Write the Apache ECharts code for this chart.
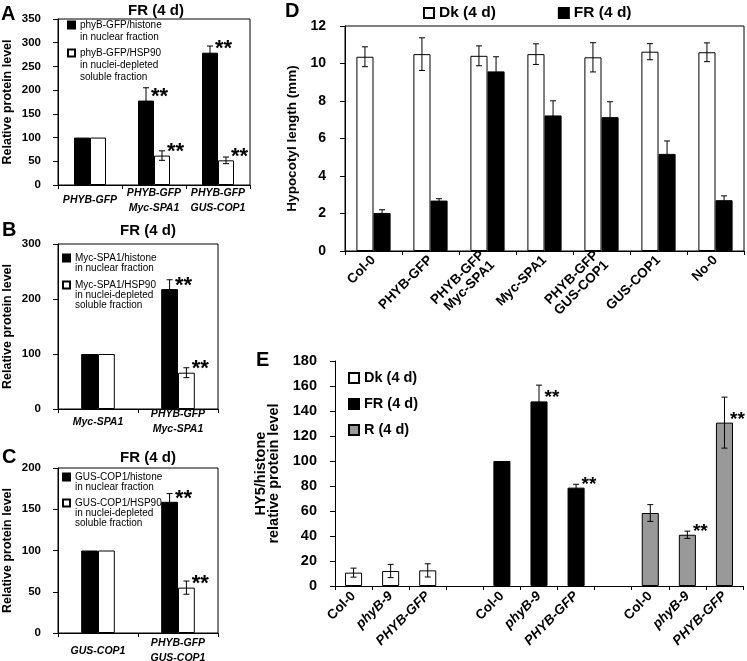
<!DOCTYPE html>
<html><head><meta charset="utf-8">
<script src="https://cdn.jsdelivr.net/npm/echarts@6/dist/echarts.min.js"></script>
<style>html,body{margin:0;padding:0;background:#fff}#c{width:747px;height:661px}</style>
</head><body><div id="c"></div>
<script>
// ---------- DATA ----------
const catsA = ['PHYB-GFP', 'PHYB-GFP\nMyc-SPA1', 'PHYB-GFP\nGUS-COP1'];
const aNuclear = [100, 178, 279];
const aNuclearErr = [0, 27, 14];
const aNuclearSig = [0, 1, 1];
const aSoluble = [100, 62, 52];
const aSolubleErr = [0, 10, 7];
const aSolubleSig = [0, 1, 1];

const catsB = ['Myc-SPA1', 'PHYB-GFP\nMyc-SPA1'];
const bNuclear = [100, 218];
const bNuclearErr = [0, 17];
const bNuclearSig = [0, 1];
const bSoluble = [100, 66];
const bSolubleErr = [0, 9];
const bSolubleSig = [0, 1];

const catsC = ['GUS-COP1', 'PHYB-GFP\nGUS-COP1'];
const cNuclear = [100, 159];
const cNuclearErr = [0, 10];
const cNuclearSig = [0, 1];
const cSoluble = [100, 55];
const cSolubleErr = [0, 8];
const cSolubleSig = [0, 1];

const catsD = ['Col-0', 'PHYB-GFP', 'PHYB-GFP\nMyc-SPA1', 'Myc-SPA1', 'PHYB-GFP\nGUS-COP1', 'GUS-COP1', 'No-0'];
const dDark = [10.36, 10.5, 10.41, 10.5, 10.33, 10.63, 10.6];
const dDarkErr = [0.53, 0.87, 0.53, 0.55, 0.78, 0.43, 0.5];
const dFR = [2.03, 2.69, 9.58, 7.23, 7.14, 5.18, 2.71];
const dFRErr = [0.17, 0.1, 0.78, 0.78, 0.82, 0.69, 0.23];

const catsE = ['Col-0', 'phyB-9', 'PHYB-GFP', '', 'Col-0', 'phyB-9', 'PHYB-GFP', '', 'Col-0', 'phyB-9', 'PHYB-GFP'];
const eDark = [10.7, 12, 12.5, null, null, null, null, null, null, null, null];
const eDarkErr = [3.6, 5.3, 5.3, 0, 0, 0, 0, 0, 0, 0, 0];
const eDarkSig = [0, 0, 0, 0, 0, 0, 0, 0, 0, 0, 0];
const eFR = [null, null, null, null, 100, 147.7, 78.7, null, null, null, null];
const eFRErr = [0, 0, 0, 0, 0, 13, 2.7, 0, 0, 0, 0];
const eFRSig = [0, 0, 0, 0, 0, 1, 1, 0, 0, 0, 0];
const eR = [null, null, null, null, null, null, null, null, 58.4, 41, 130.7];
const eRErr = [0, 0, 0, 0, 0, 0, 0, 0, 6.7, 2.9, 20.4];
const eRSig = [0, 0, 0, 0, 0, 0, 0, 0, 0, 1, 1];

const legendText = {
  'phyB-GFP/histone': 'phyB-GFP/histone\nin nuclear fraction',
  'phyB-GFP/HSP90': 'phyB-GFP/HSP90\nin nuclei-depleted\nsoluble fraction',
  'Myc-SPA1/histone': 'Myc-SPA1/histone\nin nuclear fraction',
  'Myc-SPA1/HSP90': 'Myc-SPA1/HSP90\nin nuclei-depleted\nsoluble fraction',
  'GUS-COP1/histone': 'GUS-COP1/histone\nin nuclear fraction',
  'GUS-COP1/HSP90': 'GUS-COP1/HSP90\nin nuclei-depleted\nsoluble fraction'
};
const uprightE = ['Col-0'];

// ---------- HELPERS ----------
const FONT = '"Liberation Sans", Arial, Helvetica, sans-serif';
const BLACK = {color: '#000', borderColor: '#000', borderWidth: 1};
const WHITE = {color: '#fff', borderColor: '#000', borderWidth: 1};
const GRAY = {color: '#999999', borderColor: '#000', borderWidth: 1};

function grid(left, top, width, height, box) {
  return {left, top, width, height, containLabel: false, outerBoundsMode: 'none',
    show: box, borderColor: '#000', borderWidth: 1, backgroundColor: 'transparent'};
}
function yAx(gi, max, interval, fs, margin, name, nameGap, nameSize, nameLH) {
  return {type: 'value', gridIndex: gi, min: 0, max, interval,
    axisLine: {show: true, lineStyle: {color: '#000', width: 1}},
    axisTick: {show: true, length: 5, inside: false, lineStyle: {color: '#000', width: 1}},
    splitLine: {show: false},
    axisLabel: {color: '#000', fontFamily: FONT, fontWeight: 'bold', fontSize: fs, margin},
    name, nameLocation: 'middle', nameGap, nameRotate: 90,
    nameTextStyle: {color: '#000', fontFamily: FONT, fontWeight: 'bold', fontSize: nameSize, lineHeight: nameLH}
  };
}
function xAx(gi, data, label) {
  return {type: 'category', gridIndex: gi, data, boundaryGap: true,
    axisLine: {show: true, onZero: false, lineStyle: {color: '#000', width: 1}},
    axisTick: {show: true, interval: 0, length: 4, alignWithLabel: false, inside: false, lineStyle: {color: '#000', width: 1}},
    splitLine: {show: false},
    axisLabel: Object.assign({interval: 0, color: '#000', fontFamily: FONT, fontWeight: 'bold', hideOverlap: false}, label)
  };
}
function bar(name, gi, data, style, width, gap) {
  return {type: 'bar', name, xAxisIndex: gi, yAxisIndex: gi, data, itemStyle: style,
    barWidth: width, barGap: gap, z: 2, silent: true, animation: false};
}
function errSeries(name, gi, vals, errs, sigs, offsetSign, barFrac, starSize) {
  const data = [];
  vals.forEach((v, i) => { if (v != null) data.push([i, v, errs[i], sigs[i]]); });
  return {type: 'custom', name, xAxisIndex: gi, yAxisIndex: gi, data, z: 5, silent: true, animation: false,
    encode: {x: 0, y: 1},
    renderItem: function (params, api) {
      const i = api.value(0), v = api.value(1), e = api.value(2), s = api.value(3);
      const band = api.size([1, 0])[0];
      const bw = band * barFrac;
      const c = api.coord([i, v]);
      const cx = c[0] + offsetSign * bw / 2;
      const top = api.coord([i, v + e])[1];
      const bot = api.coord([i, v - e])[1];
      const st = {stroke: '#000', lineWidth: 1};
      const ch = [];
      if (e > 0) {
        ch.push({type: 'line', shape: {x1: cx, y1: top, x2: cx, y2: bot}, style: st});
        ch.push({type: 'line', shape: {x1: cx - 3, y1: top, x2: cx + 3, y2: top}, style: st});
        ch.push({type: 'line', shape: {x1: cx - 3, y1: bot, x2: cx + 3, y2: bot}, style: st});
      }
      if (s) {
        // significance stars sit just above the bar top, beside the error bar
        ch.push({type: 'text', style: {text: '**', x: cx + bw / 2 - 3, y: c[1] - 0.56 * starSize - 2,
          fill: '#000', fontSize: starSize, fontWeight: 'bold', fontFamily: FONT,
          align: 'left', verticalAlign: 'top'}});
      }
      return {type: 'group', children: ch};
    }
  };
}
// multi-line legend entries: the swatch sits beside the first line (leading blank lines keep it centred there)
function smallLegend(names, left, top, L, gap, fs) {
  return {orient: 'vertical', left, top, padding: 0, itemWidth: 7, itemHeight: 7, itemGap: gap,
    icon: 'rect', selectedMode: false, data: names,
    formatter: n => {
      const t = legendText[n];
      const lines = t.split('\n').length;
      return '\n'.repeat(lines - 1) + t;
    },
    textStyle: {color: '#000', fontFamily: FONT, fontSize: fs, lineHeight: L}
  };
}
const titleStyle = {color: '#000', fontFamily: FONT, fontWeight: 'bold', fontSize: 15};
const letterStyle = {color: '#000', fontFamily: FONT, fontWeight: 'bold', fontSize: 20};
function ttl(text, left, top, style, align) {
  return {text, left, top, padding: 0, textAlign: align, textStyle: style};
}
const italicLabel = {fontStyle: 'italic', fontSize: 10.5, verticalAlign: 'middle'};

// ---------- OPTION ----------
const option = {
  backgroundColor: '#fff',
  animation: false,
  title: [
    ttl('FR (4 d)', 156, 3, titleStyle, 'center'),
    ttl('FR (4 d)', 148, 223, titleStyle, 'center'),
    ttl('FR (4 d)', 148, 450, titleStyle, 'center'),
    ttl('A', 1, 4, letterStyle, 'left'),
    ttl('B', 2, 220, letterStyle, 'left'),
    ttl('C', 2, 447, letterStyle, 'left'),
    ttl('D', 285, 1, letterStyle, 'left'),
    ttl('E', 256, 350, letterStyle, 'left')
  ],
  legend: [
    smallLegend(['phyB-GFP/histone', 'phyB-GFP/HSP90'], 67, 7, 12, -20, 10),
    smallLegend(['Myc-SPA1/histone', 'Myc-SPA1/HSP90'], 62, 243, 10, -13, 10),
    smallLegend(['GUS-COP1/histone', 'GUS-COP1/HSP90'], 62, 462, 10, -14, 10),
    {orient: 'horizontal', left: 423, top: 5, padding: 0, itemWidth: 10, itemHeight: 10, itemGap: 62,
      icon: 'rect', selectedMode: false, data: ['Dk (4 d)', 'FR (4 d)'],
      textStyle: {color: '#000', fontFamily: FONT, fontWeight: 'bold', fontSize: 15.5}},
    {orient: 'vertical', left: 348, top: 370, padding: 0, itemWidth: 10, itemHeight: 10, itemGap: 10,
      icon: 'rect', selectedMode: false, data: ['Dk (4 d)', 'FR (4 d)', 'R (4 d)'],
      textStyle: {color: '#000', fontFamily: FONT, fontWeight: 'bold', fontSize: 14.5, lineHeight: 16}}
  ],
  grid: [
    grid(58, 19, 192, 166, true),
    grid(58, 244, 160, 165, true),
    grid(58, 468, 160, 165, true),
    grid(345, 26, 399, 225, true),
    grid(335, 361, 408, 225, false)
  ],
  xAxis: [
    xAx(0, catsA, Object.assign({margin: 15.5, lineHeight: 15}, italicLabel)),
    xAx(1, catsB, Object.assign({margin: 13, lineHeight: 15}, italicLabel)),
    xAx(2, catsC, Object.assign({margin: 18, lineHeight: 15}, italicLabel)),
    xAx(3, catsD, {rotate: 45, margin: 7, fontSize: 13.5, lineHeight: 14}),
    xAx(4, catsE, {rotate: 45, margin: 8, fontSize: 13.5,
      formatter: v => uprightE.indexOf(v) >= 0 ? v : (v === '' ? '' : '{i|' + v + '}'),
      rich: {i: {fontStyle: 'italic', fontWeight: 'bold', fontSize: 13.5, fontFamily: FONT, color: '#000'}}})
  ],
  yAxis: [
    yAx(0, 350, 50, 11.5, 17, 'Relative protein level', 43, 12.5, 14),
    yAx(1, 300, 100, 11.5, 17, 'Relative protein level', 43, 12.5, 14),
    yAx(2, 200, 50, 11.5, 17, 'Relative protein level', 43, 12.5, 14),
    yAx(3, 12, 2, 14, 19, 'Hypocotyl length (mm)', 44, 13.5, 15),
    yAx(4, 180, 20, 14.5, 18, 'HY5/histone\nrelative protein level', 46, 14.5, 13)
  ],
  series: [
    bar('phyB-GFP/histone', 0, aNuclear, BLACK, '25%', '0%'),
    bar('phyB-GFP/HSP90', 0, aSoluble, WHITE, '25%', '0%'),
    errSeries('errA1', 0, aNuclear, aNuclearErr, aNuclearSig, -1, 0.25, 22),
    errSeries('errA2', 0, aSoluble, aSolubleErr, aSolubleSig, 1, 0.25, 22),

    bar('Myc-SPA1/histone', 1, bNuclear, BLACK, '21%', '0%'),
    bar('Myc-SPA1/HSP90', 1, bSoluble, WHITE, '21%', '0%'),
    errSeries('errB1', 1, bNuclear, bNuclearErr, bNuclearSig, -1, 0.21, 22),
    errSeries('errB2', 1, bSoluble, bSolubleErr, bSolubleSig, 1, 0.21, 22),

    bar('GUS-COP1/histone', 2, cNuclear, BLACK, '21%', '0%'),
    bar('GUS-COP1/HSP90', 2, cSoluble, WHITE, '21%', '0%'),
    errSeries('errC1', 2, cNuclear, cNuclearErr, cNuclearSig, -1, 0.21, 22),
    errSeries('errC2', 2, cSoluble, cSolubleErr, cSolubleSig, 1, 0.21, 22),

    bar('Dk (4 d)', 3, dDark, WHITE, '30%', '0%'),
    bar('FR (4 d)', 3, dFR, BLACK, '30%', '0%'),
    errSeries('errD1', 3, dDark, dDarkErr, dDark.map(() => 0), -1, 0.30, 20),
    errSeries('errD2', 3, dFR, dFRErr, dFR.map(() => 0), 1, 0.30, 20),

    bar('Dk (4 d)', 4, eDark, WHITE, '46%', '-100%'),
    bar('FR (4 d)', 4, eFR, BLACK, '46%', '-100%'),
    bar('R (4 d)', 4, eR, GRAY, '46%', '-100%'),
    errSeries('errE1', 4, eDark, eDarkErr, eDarkSig, 0, 0.46, 19),
    errSeries('errE2', 4, eFR, eFRErr, eFRSig, 0, 0.46, 19),
    errSeries('errE3', 4, eR, eRErr, eRSig, 0, 0.46, 19)
  ]
};

const chart = echarts.init(document.getElementById('c'), null, {renderer: 'canvas', width: 747, height: 661});
chart.setOption(option);
</script></body></html>
